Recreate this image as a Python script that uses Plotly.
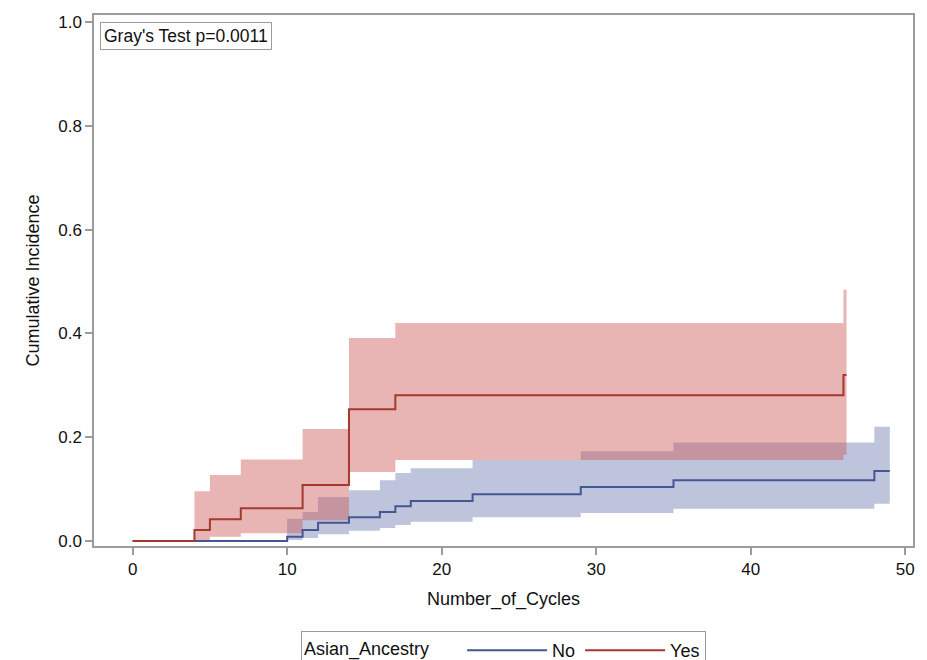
import plotly.graph_objects as go

# ---- Data ----
# Asian_Ancestry = No (blue)
no_time  = [0, 10, 11, 12, 14, 16, 17, 18, 22, 29, 35, 48, 49]
no_cif   = [0, 0.008, 0.021, 0.035, 0.046, 0.056, 0.067, 0.077, 0.090, 0.104, 0.117, 0.135, 0.135]
no_lower = [0, 0.002, 0.006, 0.013, 0.020, 0.025, 0.031, 0.037, 0.046, 0.054, 0.062, 0.072, 0.072]
no_upper = [0, 0.043, 0.056, 0.085, 0.098, 0.117, 0.131, 0.140, 0.156, 0.173, 0.190, 0.220, 0.220]

# Asian_Ancestry = Yes (red)
yes_time  = [0, 4, 5, 7, 11, 14, 17, 46, 46.2]
yes_cif   = [0, 0.021, 0.042, 0.063, 0.108, 0.254, 0.281, 0.320, 0.320]
yes_lower = [0, 0.002, 0.008, 0.015, 0.040, 0.133, 0.156, 0.166, 0.166]
yes_upper = [0, 0.096, 0.127, 0.157, 0.216, 0.391, 0.420, 0.484, 0.484]

x_ticks = [0, 10, 20, 30, 40, 50]
y_ticks = [0.0, 0.2, 0.4, 0.6, 0.8, 1.0]
y_tick_labels = ["0.0", "0.2", "0.4", "0.6", "0.8", "1.0"]

group_title = "Asian_Ancestry"
annotation_text = "Gray's Test p=0.0011"

BLUE_LINE = "#445694"
RED_LINE = "#A23A2E"
BLUE_FILL = "rgba(111,126,179,0.46)"
RED_FILL = "rgba(208,91,91,0.46)"
GREY = "#9C9C9C"
FONT = "Liberation Sans, Arial, sans-serif"

fig = go.Figure()

# Confidence bands
fig.add_trace(go.Scatter(x=no_time, y=no_lower, mode="lines", line=dict(width=0, shape="hv"),
                         showlegend=False, hoverinfo="skip"))
fig.add_trace(go.Scatter(x=no_time, y=no_upper, mode="lines", line=dict(width=0, shape="hv"),
                         fill="tonexty", fillcolor=BLUE_FILL, showlegend=False, hoverinfo="skip"))
fig.add_trace(go.Scatter(x=yes_time, y=yes_lower, mode="lines", line=dict(width=0, shape="hv"),
                         showlegend=False, hoverinfo="skip"))
fig.add_trace(go.Scatter(x=yes_time, y=yes_upper, mode="lines", line=dict(width=0, shape="hv"),
                         fill="tonexty", fillcolor=RED_FILL, showlegend=False, hoverinfo="skip"))

# CIF step curves
fig.add_trace(go.Scatter(x=no_time, y=no_cif, mode="lines", name="No",
                         line=dict(color=BLUE_LINE, width=2, shape="hv")))
fig.add_trace(go.Scatter(x=yes_time, y=yes_cif, mode="lines", name="Yes",
                         line=dict(color=RED_LINE, width=2, shape="hv")))

fig.add_annotation(
    text=annotation_text, xref="paper", yref="paper", x=0.0073, y=0.987,
    xanchor="left", yanchor="top", showarrow=False,
    font=dict(family=FONT, size=17.5, color="#111"),
    bordercolor=GREY, borderwidth=1, borderpad=3, bgcolor="white", align="left",
)

fig.update_layout(
    width=927, height=660,
    margin=dict(l=94, r=14, t=15, b=114, autoexpand=False),
    paper_bgcolor="white", plot_bgcolor="white",
    font=dict(family=FONT, size=17, color="#111"),
    legend=dict(
        title=dict(text=group_title + "     ", font=dict(size=18)),
        orientation="h", x=0.5, xanchor="center", y=-0.160, yanchor="top",
        bordercolor=GREY, borderwidth=1, font=dict(size=18),
        traceorder="normal", itemwidth=80,
    ),
    xaxis=dict(
        range=[-2.5, 50.5], tickvals=x_ticks, showgrid=False, zeroline=False,
        showline=True, mirror=True, linecolor=GREY, linewidth=1.5,
        ticks="outside", ticklen=7, tickcolor=GREY, tickwidth=1.5,
        tickfont=dict(size=17), automargin=False,
        title=dict(text="Number_of_Cycles", font=dict(size=18), standoff=14),
    ),
    yaxis=dict(
        range=[-0.0096, 1.0135], tickvals=y_ticks, ticktext=y_tick_labels,
        showgrid=False, zeroline=False,
        showline=True, mirror=True, linecolor=GREY, linewidth=1.5,
        ticks="outside", ticklen=7, tickcolor=GREY, tickwidth=1.5,
        tickfont=dict(size=17), automargin=False,
        title=dict(text="Cumulative Incidence", font=dict(size=18), standoff=14),
    ),
)

fig.write_html(
    "out.html",
    config={"displayModeBar": False},
    post_script="document.body.style.margin='0px';document.body.style.overflow='hidden';",
)
